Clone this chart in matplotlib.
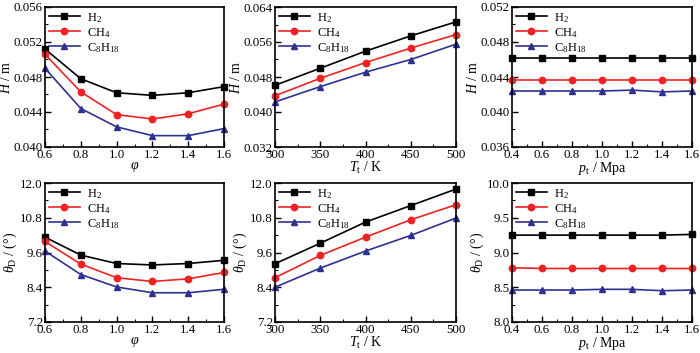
import matplotlib
matplotlib.use("Agg")
from matplotlib import pyplot as plt
from matplotlib.ticker import MultipleLocator, AutoMinorLocator

plt.rcParams['font.family'] = ['Liberation Serif', 'DejaVu Serif']
plt.rcParams['mathtext.fontset'] = 'custom'
plt.rcParams['mathtext.rm'] = 'Liberation Serif'
plt.rcParams['mathtext.it'] = 'Liberation Serif:italic'
plt.rcParams['font.size'] = 9.5

fuels = ['H$_2$', 'CH$_4$', 'C$_8$H$_{18}$']

# equivalence ratio
phi = [0.6, 0.8, 1.0, 1.2, 1.4, 1.6]
H_phi = {
    'H2': [0.0512, 0.0478, 0.0462, 0.0459, 0.0462, 0.0469],
    'CH4': [0.0506, 0.0463, 0.0437, 0.0432, 0.0438, 0.0449],
    'C8H18': [0.0490, 0.0444, 0.0423, 0.0413, 0.0413, 0.0421],
}
theta_phi = {
    'H2': [10.13, 9.51, 9.22, 9.17, 9.22, 9.33],
    'CH4': [9.98, 9.20, 8.73, 8.60, 8.69, 8.91],
    'C8H18': [9.65, 8.84, 8.41, 8.21, 8.21, 8.33],
}

# inlet temperature
Tt = [300, 350, 400, 450, 500]
H_T = {
    'H2': [0.0461, 0.0500, 0.0539, 0.0574, 0.0606],
    'CH4': [0.0437, 0.0477, 0.0513, 0.0546, 0.0577],
    'C8H18': [0.0423, 0.0458, 0.0491, 0.0520, 0.0555],
}
theta_T = {
    'H2': [9.21, 9.92, 10.65, 11.22, 11.79],
    'CH4': [8.73, 9.50, 10.13, 10.73, 11.25],
    'C8H18': [8.40, 9.06, 9.65, 10.19, 10.79],
}

# inlet pressure
pt = [0.4, 0.6, 0.8, 1.0, 1.2, 1.4, 1.6]
H_p = {
    'H2': [0.0462, 0.0462, 0.0462, 0.0462, 0.0462, 0.0462, 0.0462],
    'CH4': [0.0437, 0.0437, 0.0437, 0.0437, 0.0437, 0.0437, 0.0437],
    'C8H18': [0.0424, 0.0424, 0.0424, 0.0424, 0.0425, 0.0423, 0.0424],
}
theta_p = {
    'H2': [9.25, 9.25, 9.25, 9.25, 9.25, 9.25, 9.26],
    'CH4': [8.78, 8.77, 8.77, 8.77, 8.77, 8.77, 8.77],
    'C8H18': [8.46, 8.46, 8.46, 8.47, 8.47, 8.45, 8.46],
}

styles = {
    'H2': dict(color='black', marker='s', ms=4.3),
    'CH4': dict(color='#ee2222', marker='o', ms=4.6),
    'C8H18': dict(color='#2e3192', marker='^', ms=5.0),
}

fig = plt.figure(figsize=(7.0, 3.53), dpi=100)

lefts = [45 / 700, 275 / 700, 512 / 700]
widths = [179 / 700, 181 / 700, 180 / 700]
top_row = (1 - 147 / 353, 140 / 353)
bot_row = (1 - 322 / 353, 139 / 353)

panels = [
    # (col, row, x, data, xlim, xstep, ylim, ystep, xlabel, ylabel, yfmt, xfmt)
    (0, top_row, phi, H_phi, (0.6, 1.6), 0.2, (0.040, 0.056), 0.004,
     r'$\varphi$', r'$H$ / m', '{:.3f}', '{:.1f}'),
    (1, top_row, Tt, H_T, (300, 500), 50, (0.032, 0.064), 0.008,
     r'$T_{\mathrm{t}}$ / K', r'$H$ / m', '{:.3f}', '{:.0f}'),
    (2, top_row, pt, H_p, (0.4, 1.6), 0.2, (0.036, 0.052), 0.004,
     r'$p_{\mathrm{t}}$ / Mpa', r'$H$ / m', '{:.3f}', '{:.1f}'),
    (0, bot_row, phi, theta_phi, (0.6, 1.6), 0.2, (7.2, 12.0), 1.2,
     r'$\varphi$', r'$\theta_{\mathrm{D}}$ / (°)', '{:.1f}', '{:.1f}'),
    (1, bot_row, Tt, theta_T, (300, 500), 50, (7.2, 12.0), 1.2,
     r'$T_{\mathrm{t}}$ / K', r'$\theta_{\mathrm{D}}$ / (°)', '{:.1f}', '{:.0f}'),
    (2, bot_row, pt, theta_p, (0.4, 1.6), 0.2, (8.0, 10.0), 0.5,
     r'$p_{\mathrm{t}}$ / Mpa', r'$\theta_{\mathrm{D}}$ / (°)', '{:.1f}', '{:.1f}'),
]

for col, row, x, data, xlim, xstep, ylim, ystep, xlab, ylab, yfmt, xfmt in panels:
    ax = fig.add_axes([lefts[col], row[0], widths[col], row[1]])
    for key, name in zip(['H2', 'CH4', 'C8H18'], fuels):
        ax.plot(x, data[key], label=name, lw=1.2, clip_on=False,
                **styles[key])
    ax.xaxis.set_major_locator(MultipleLocator(xstep))
    ax.yaxis.set_major_locator(MultipleLocator(ystep))
    ax.xaxis.set_minor_locator(AutoMinorLocator(2))
    ax.yaxis.set_minor_locator(AutoMinorLocator(2))
    ax.set_xlim(*xlim)
    ax.set_ylim(*ylim)
    ax.xaxis.set_major_formatter(lambda v, pos, f=xfmt: f.format(v))
    ax.yaxis.set_major_formatter(lambda v, pos, f=yfmt: f.format(v))
    ax.tick_params(which='both', direction='in', top=False, right=False,
                   labelsize=9.3, pad=1.5)
    ax.tick_params(which='major', length=4, width=1)
    ax.tick_params(which='minor', length=2, width=0.8)
    for sp in ax.spines.values():
        sp.set_linewidth(1.2)
    ax.set_xlabel(xlab, fontsize=10, labelpad=-1)
    ax.set_ylabel(ylab, fontsize=10, labelpad=0.5)
    ax.legend(loc='upper left', frameon=False, fontsize=9, handlelength=2.5,
              handletextpad=0.55, labelspacing=0.1, borderpad=0.2,
              borderaxespad=0.1)

fig.savefig('out.png', dpi=100)
